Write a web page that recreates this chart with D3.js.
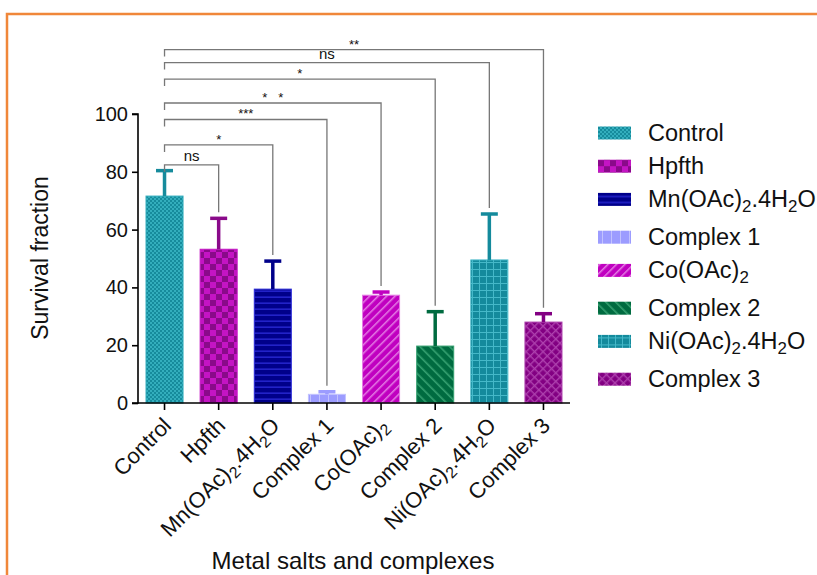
<!DOCTYPE html>
<html>
<head>
<meta charset="utf-8">
<script src="https://cdn.jsdelivr.net/npm/d3@7"></script>
<style>
  body { margin: 0; background: #fff; }
  text { font-family: "Liberation Sans", Arial, sans-serif; fill: #111; }
</style>
</head>
<body>
<div id="chart"></div>
<script>
// data ("_2" marks a subscript 2)
var categories = ["Control", "Hpfth", "Mn(OAc)_2.4H_2O", "Complex 1", "Co(OAc)_2", "Complex 2", "Ni(OAc)_2.4H_2O", "Complex 3"];
var means = [71.6, 53.2, 39.4, 3.0, 37.3, 19.7, 49.5, 28.0];
var errors = [8.8, 10.7, 9.7, 0.9, 1.1, 11.9, 15.9, 2.9];
var yTicks = [0, 20, 40, 60, 80, 100];

// significance brackets vs Control
var compTargets = ["Hpfth", "Mn(OAc)_2.4H_2O", "Complex 1", "Co(OAc)_2", "Complex 2", "Ni(OAc)_2.4H_2O", "Complex 3"];
var compLabels = ["ns", "*", "***", "* *", "*", "ns", "**"];
var compLevels = [82.4, 89.3, 98.1, 103.8, 112.1, 117.8, 122.3];

// colours: base fill, pattern colour
var baseColors = ["#168b9c", "#8a0a8a", "#00008a", "#9c9cff", "#c000c0", "#006b40", "#148a9c", "#820082"];
var lightColors = ["#33aebd", "#c414c4", "#2a2ad8", "#c2c2ff", "#e47ce4", "#35a070", "#45b8c8", "#ad40ad"];

var svgWidth = 817, svgHeight = 575;

var svg = d3.select("#chart")
    .append("svg")
    .attr("width", svgWidth)
    .attr("height", svgHeight);

// orange frame
svg.append("rect")
    .attr("x", 7).attr("y", 14)
    .attr("width", 840).attr("height", 600)
    .attr("fill", "none")
    .attr("stroke", "#f0873a")
    .attr("stroke-width", 2.5);

// patterns
var defs = svg.append("defs");
function pattern(i, size, transform) {
    var p = defs.append("pattern")
        .attr("id", "pat" + i)
        .attr("patternUnits", "userSpaceOnUse")
        .attr("width", size).attr("height", size);
    if (transform) p.attr("patternTransform", transform);
    p.append("rect").attr("width", size).attr("height", size).attr("fill", baseColors[i]);
    return p;
}
// Control: fine checks
var p0 = pattern(0, 4);
p0.append("rect").attr("width", 2).attr("height", 2).attr("fill", lightColors[0]);
p0.append("rect").attr("x", 2).attr("y", 2).attr("width", 2).attr("height", 2).attr("fill", lightColors[0]);
// Hpfth: big checks
var p1 = pattern(1, 12);
p1.append("rect").attr("width", 6).attr("height", 6).attr("fill", lightColors[1]);
p1.append("rect").attr("x", 6).attr("y", 6).attr("width", 6).attr("height", 6).attr("fill", lightColors[1]);
// Mn: horizontal lines
var p2 = pattern(2, 6);
p2.append("rect").attr("y", 2.5).attr("width", 6).attr("height", 1.3).attr("fill", lightColors[2]);
// Complex 1: vertical lines
var p3 = pattern(3, 9);
p3.append("rect").attr("x", 4).attr("width", 1).attr("height", 9).attr("fill", lightColors[3]);
// Co: diagonal /
var p4 = pattern(4, 6, "rotate(45)");
p4.append("rect").attr("x", 2).attr("width", 1.5).attr("height", 6).attr("fill", lightColors[4]);
// Complex 2: diagonal \
var p5 = pattern(5, 7, "rotate(-45)");
p5.append("rect").attr("x", 2).attr("width", 1.6).attr("height", 7).attr("fill", lightColors[5]);
// Ni: grid
var p6 = pattern(6, 7);
p6.append("rect").attr("x", 3).attr("width", 1).attr("height", 7).attr("fill", lightColors[6]);
p6.append("rect").attr("y", 3).attr("width", 7).attr("height", 1).attr("fill", lightColors[6]);
// Complex 3: crosshatch
var p7 = pattern(7, 6, "rotate(45)");
p7.append("rect").attr("x", 2).attr("width", 1.4).attr("height", 6).attr("fill", lightColors[7]);
p7.append("rect").attr("y", 2).attr("width", 6).attr("height", 1.4).attr("fill", lightColors[7]);

// scales
var xScale = d3.scaleBand()
    .domain(categories)
    .range([138, 570])
    .paddingInner(0.316)
    .paddingOuter(0.148);

var yScale = d3.scaleLinear()
    .domain([0, 100])
    .range([403, 114]);

// subscript-aware text writer
function richText(sel, str) {
    var parts = str.split(/(_\d)/);
    var down = false;
    parts.forEach(function(part) {
        if (part === "") return;
        if (part[0] === "_") {
            sel.append("tspan").attr("dy", "0.3em").attr("font-size", "0.72em").text(part.slice(1));
            down = true;
        } else {
            var t = sel.append("tspan").text(part);
            if (down) { t.attr("dy", "-0.216em"); down = false; }
        }
    });
}

// bars
var data = categories.map(function(c, i) { return { name: c, mean: means[i], err: errors[i], i: i }; });

svg.selectAll(".bar")
    .data(data)
    .enter()
    .append("rect")
    .attr("class", "bar")
    .attr("x", d => xScale(d.name))
    .attr("width", xScale.bandwidth())
    .attr("y", d => yScale(d.mean))
    .attr("height", d => yScale(0) - yScale(d.mean))
    .attr("fill", d => "url(#pat" + d.i + ")")
    .attr("stroke", d => lightColors[d.i])
    .attr("stroke-width", 1);

// error bars (upper only)
var errG = svg.selectAll(".err")
    .data(data)
    .enter()
    .append("g")
    .attr("class", "err")
    .attr("stroke", d => baseColors[d.i])
    .attr("stroke-width", 3.5);

errG.append("line")
    .attr("x1", d => xScale(d.name) + xScale.bandwidth() / 2)
    .attr("x2", d => xScale(d.name) + xScale.bandwidth() / 2)
    .attr("y1", d => yScale(d.mean))
    .attr("y2", d => yScale(d.mean + d.err));

errG.append("line")
    .attr("x1", d => xScale(d.name) + xScale.bandwidth() / 2 - 8.5)
    .attr("x2", d => xScale(d.name) + xScale.bandwidth() / 2 + 8.5)
    .attr("y1", d => yScale(d.mean + d.err))
    .attr("y2", d => yScale(d.mean + d.err));

// axes
var leftAxis = d3.axisLeft(yScale).tickValues(yTicks).tickSize(6).tickPadding(4);
var yAxisG = svg.append("g")
    .attr("transform", "translate(138, 0)")
    .call(leftAxis);
yAxisG.select(".domain").attr("stroke-width", 1.6).attr("d", "M-6,114H0V403H-6");
yAxisG.selectAll(".tick line").attr("stroke-width", 1.6);
yAxisG.selectAll(".tick text").attr("font-size", 20).attr("fill", "#111")
    .attr("font-family", "Liberation Sans, Arial, sans-serif");

var bottomAxis = d3.axisBottom(xScale).tickSize(7).tickFormat("");
var xAxisG = svg.append("g")
    .attr("transform", "translate(0, 403)")
    .call(bottomAxis);
xAxisG.select(".domain").attr("stroke-width", 1.6).attr("d", "M138,0H570");
xAxisG.selectAll(".tick line").attr("stroke-width", 1.6);

// rotated category labels
svg.selectAll(".xlab")
    .data(categories)
    .enter()
    .append("text")
    .attr("class", "xlab")
    .attr("font-size", 22)
    .attr("text-anchor", "end")
    .attr("transform", d => "translate(" + (xScale(d) + xScale.bandwidth() / 2 + 8) + ", 427) rotate(-45)")
    .each(function(d) { richText(d3.select(this), d); });

// axis titles
svg.append("text")
    .attr("transform", "translate(48, 258) rotate(-90)")
    .attr("text-anchor", "middle")
    .attr("font-size", 23)
    .text("Survival fraction");

svg.append("text")
    .attr("x", 353).attr("y", 569)
    .attr("text-anchor", "middle")
    .attr("font-size", 24)
    .text("Metal salts and complexes");

// significance brackets
var x0 = xScale("Control") + xScale.bandwidth() / 2;
var comps = compTargets.map(function(t, i) {
    var j = categories.indexOf(t);
    return { target: t, label: compLabels[i], level: compLevels[i], top: means[j] + errors[j] };
});

var bG = svg.selectAll(".bracket")
    .data(comps)
    .enter()
    .append("g")
    .attr("class", "bracket");

bG.append("path")
    .attr("fill", "none")
    .attr("stroke", "#777")
    .attr("stroke-width", 1.3)
    .attr("d", function(d) {
        var yy = yScale(d.level);
        var x1 = xScale(d.target) + xScale.bandwidth() / 2;
        return "M" + x0 + "," + (yy + 7) + "V" + yy + "H" + x1 + "V" + (yScale(d.top) - 6);
    });

bG.append("text")
    .attr("x", d => (x0 + xScale(d.target) + xScale.bandwidth() / 2) / 2)
    .attr("y", d => yScale(d.level) - (d.label === "ns" ? 4 : 1))
    .attr("text-anchor", "middle")
    .attr("font-size", d => d.label === "ns" ? 15 : 13)
    .attr("xml:space", "preserve")
    .text(d => d.label === "* *" ? "*   *" : d.label);

// legend: rows after a label with subscripts sit a little lower
var legendY = [];
var ly = 133;
categories.forEach(function(c, i) {
    legendY.push(ly);
    ly += 33.2 + (c.indexOf("_") >= 0 ? 4.6 : 0);
});

var legend = svg.selectAll(".legend")
    .data(data)
    .enter()
    .append("g")
    .attr("class", "legend")
    .attr("transform", (d, i) => "translate(598, " + legendY[i] + ")");

legend.append("rect")
    .attr("y", -6.5)
    .attr("width", 33).attr("height", 13)
    .attr("fill", d => "url(#pat" + d.i + ")");

legend.append("text")
    .attr("x", 50).attr("y", 8)
    .attr("font-size", 23.5)
    .each(function(d) { richText(d3.select(this), d.name); });
</script>
</body>
</html>
